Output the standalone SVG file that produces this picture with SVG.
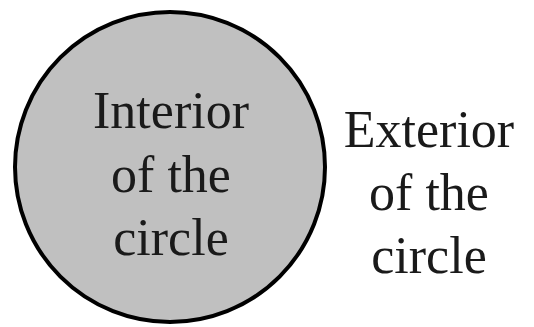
<svg xmlns="http://www.w3.org/2000/svg" width="534" height="327" viewBox="0 0 534 327">
<style>
text{font-family:"Liberation Serif","Times New Roman",serif;font-size:52px;fill:#1a1a1a;text-anchor:middle}
</style>
<rect width="534" height="327" fill="#ffffff"/>
<g id="circle">
<circle cx="170" cy="167" r="155" fill="#c0c0c0" stroke="#000" stroke-width="4"/>
<text x="171" y="128">Interior</text>
<text x="171" y="192">of the</text>
<text x="171" y="255">circle</text>
</g>
<g id="exterior">
<text x="429" y="147">Exterior</text>
<text x="429" y="210">of the</text>
<text x="429" y="273">circle</text>
</g>
</svg>
